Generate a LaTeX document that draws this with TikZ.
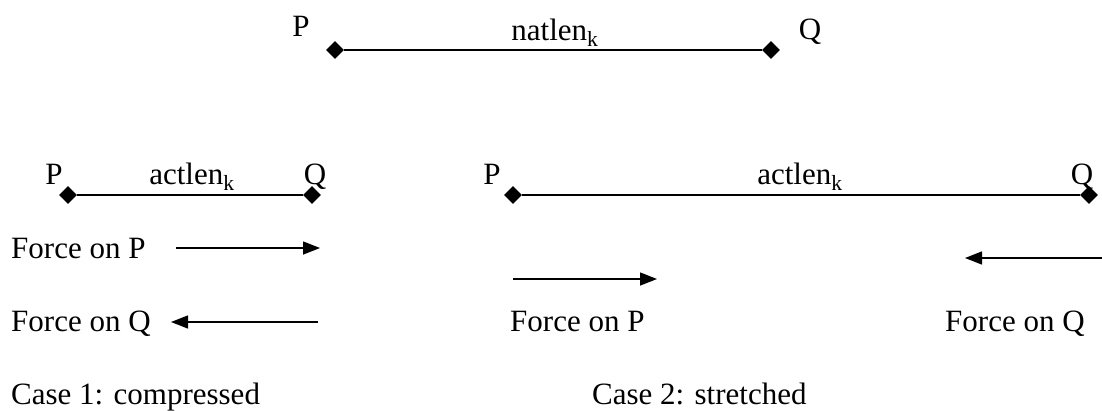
\documentclass[tikz,border=0pt]{standalone}
\usepackage{fontspec}
\setmainfont{Liberation Serif}
\usetikzlibrary{shapes.geometric,arrows.meta}
\begin{document}
\begin{tikzpicture}[x=1pt,y=-1pt,
  every node/.style={font=\fontsize{31}{36}\selectfont, inner sep=0pt},
  end/.style={diamond, fill=black, minimum size=18pt, inner sep=0pt},
  bar/.style={line width=1.4pt},
  force/.style={line width=1.4pt, -{Triangle[length=17pt,width=13pt]}},
  lbl/.style={anchor=base}
]
\useasboundingbox (0,0) rectangle (1102,410);
% top
\node[end] (tp) at (335,50) {};
\node[end] (tq) at (771,50) {};
\draw[bar] (tp) -- (tq);
\node[lbl] (tpl) at (301,36) {P};
\node[lbl] (tql) at (810,39) {Q};
\node[lbl] (tn) at (555,40) {natlen\textsubscript{k}};
% case 1
\node[end] (ap) at (68,195) {};
\node[end] (aq) at (312,195) {};
\draw[bar] (ap) -- (aq);
\node[lbl] (apl) at (54,184) {P};
\node[lbl] (aql) at (315,184) {Q};
\node[lbl] (an) at (192,184) {actlen\textsubscript{k}};
\node[anchor=base west] (afp) at (11,258) {Force on P};
\coordinate (afp1) at (176,248);
\coordinate (afp2) at (320,248);
\draw[force] (afp1) -- (afp2);
\node[anchor=base west] (afq) at (11,331) {Force on Q};
\coordinate (afq1) at (318,322);
\coordinate (afq2) at (171,322);
\draw[force] (afq1) -- (afq2);
\node[anchor=base west] (c1) at (11,404) {Case 1: compressed};
% case 2
\node[end] (bp) at (513,195) {};
\node[end] (bq) at (1089,195) {};
\draw[bar] (bp) -- (bq);
\node[lbl] (bpl) at (492,184) {P};
\node[lbl] (bql) at (1082,184) {Q};
\node[lbl] (bn) at (800,184) {actlen\textsubscript{k}};
\coordinate (bfp1) at (513,279);
\coordinate (bfp2) at (657,279);
\draw[force] (bfp1) -- (bfp2);
\node[anchor=base west] (bfpl) at (510,331) {Force on P};
\coordinate (bfq1) at (1102,258);
\coordinate (bfq2) at (965,258);
\draw[force] (bfq1) -- (bfq2);
\node[anchor=base west] (bfql) at (945,331) {Force on Q};
\node[anchor=base west] (c2) at (592,404) {Case 2: stretched};
\end{tikzpicture}
\end{document}
